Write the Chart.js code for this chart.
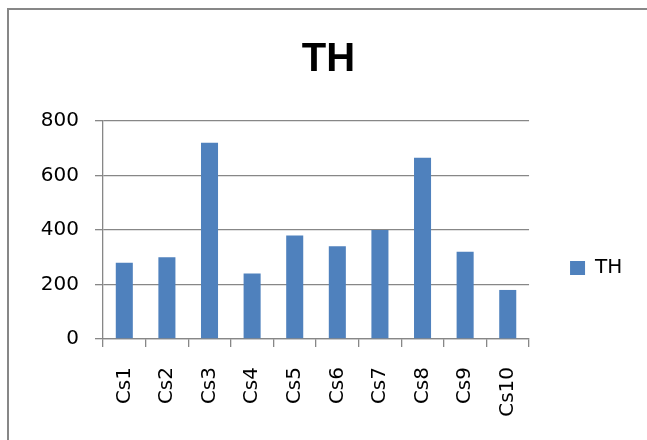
<!DOCTYPE html>
<html>
<head>
<meta charset="utf-8">
<title>TH</title>
<script src="https://cdn.jsdelivr.net/npm/chart.js@4.4.1/dist/chart.umd.min.js"></script>
<style>
    html, body { margin: 0; padding: 0; background: #ffffff; overflow: hidden; }
    #grafico { display: block; }
</style>
</head>
<body>
<canvas id="grafico" width="647" height="440"></canvas>
<script>
// --- Datos ---
const categorias = ['Cs1', 'Cs2', 'Cs3', 'Cs4', 'Cs5', 'Cs6', 'Cs7', 'Cs8', 'Cs9', 'Cs10'];
const valoresTH = [280, 300, 720, 240, 380, 340, 400, 665, 320, 180];
const tituloSerie = 'TH';
const ticksY = [0, 200, 400, 600, 800];

const colorBarra = '#4F81BD';
const colorLinea = '#878787';
const fuente = 'DejaVu Sans';

// Marco exterior del gráfico (solo se ven el borde superior e izquierdo)
const marcoPlugin = {
    id: 'marco',
    beforeDraw(chart) {
        const c = chart.ctx;
        c.save();
        c.strokeStyle = colorLinea;
        c.lineWidth = 2;
        c.beginPath();
        c.moveTo(8, chart.height);
        c.lineTo(8, 9);
        c.lineTo(chart.width, 9);
        c.stroke();
        c.restore();
    }
};

document.addEventListener('DOMContentLoaded', () => {
    const ctx = document.getElementById('grafico');

    new Chart(ctx, {
        type: 'bar',
        data: {
            labels: categorias,
            datasets: [{
                label: tituloSerie,
                data: valoresTH,
                backgroundColor: colorBarra,
                borderWidth: 0,
                barPercentage: 0.4,
                categoryPercentage: 1.0
            }]
        },
        plugins: [marcoPlugin],
        options: {
            responsive: false,
            animation: false,
            devicePixelRatio: 1,
            // padding izquierdo para centrar el título como en el original
            layout: { padding: { left: 24.7, top: 0, right: 14.7, bottom: 0 } },
            plugins: {
                title: {
                    display: true,
                    text: 'TH',
                    color: '#000000',
                    font: { family: 'Liberation Sans', size: 40, weight: 'bold' },
                    padding: { top: 36, bottom: 37 }
                },
                legend: {
                    position: 'right',
                    align: 'center',
                    // título vacío solo para bajar la leyenda
                    title: { display: true, text: '', padding: { top: 81.6, bottom: 0 } },
                    labels: {
                        boxWidth: 15,
                        boxHeight: 14,
                        padding: 41,
                        color: '#000000',
                        font: { family: fuente, size: 20 }
                    }
                },
                tooltip: { enabled: false }
            },
            scales: {
                x: {
                    afterFit: (escala) => { escala.height = 101; },
                    grid: {
                        offset: true,
                        drawOnChartArea: false,
                        drawTicks: true,
                        tickLength: 8,
                        color: colorLinea,
                        lineWidth: 1.3
                    },
                    border: { display: true, color: colorLinea, width: 1.3 },
                    ticks: {
                        minRotation: 90,
                        maxRotation: 90,
                        padding: 20,
                        color: '#000000',
                        font: { family: fuente, size: 20 }
                    }
                },
                y: {
                    min: 0,
                    max: 800,
                    afterFit: (escala) => { escala.width = 78.3; },
                    afterBuildTicks: (escala) => {
                        escala.ticks = ticksY.map(v => ({ value: v }));
                    },
                    grid: {
                        drawTicks: true,
                        tickLength: 8,
                        color: colorLinea,
                        lineWidth: 1.3
                    },
                    border: { display: true, color: colorLinea, width: 1.3 },
                    ticks: {
                        padding: 16,
                        color: '#000000',
                        font: { family: fuente, size: 20 }
                    }
                }
            }
        }
    });
});
</script>
</body>
</html>
